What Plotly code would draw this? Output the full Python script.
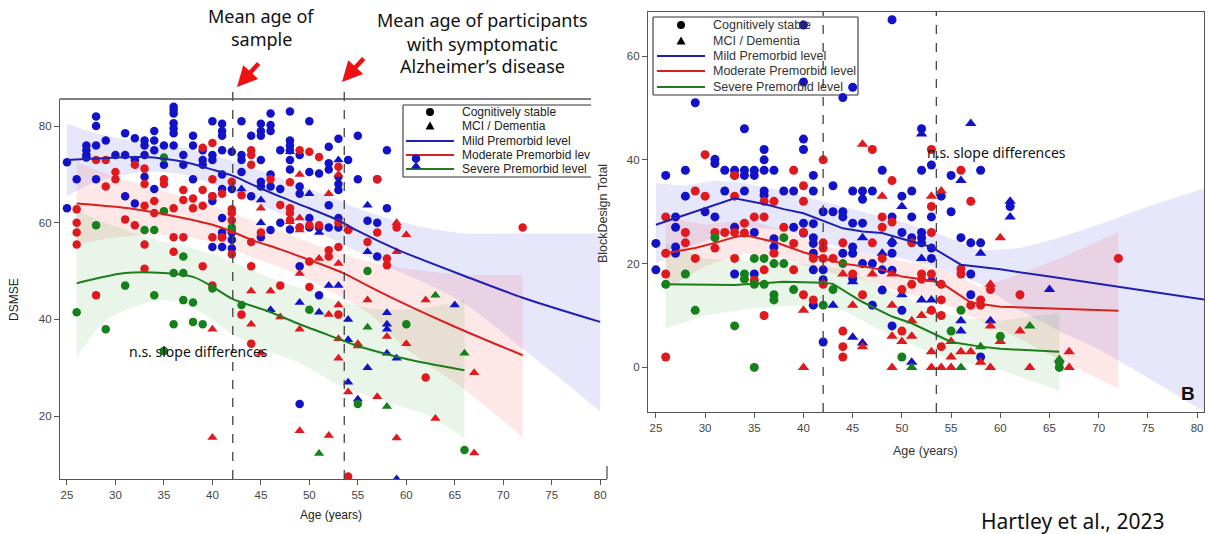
import plotly.graph_objects as go

W, H = 1209, 534

# ---------------- Panel A: DSMSE by age ----------------
# points: age -> list of scores
dsmse_mild_stable = {
    25: [72.5, 63], 26: [69], 27: [76, 75, 74, 73.5], 28: [82, 80, 76, 69], 29: [77],
    30: [74], 31: [78.5, 74, 65.5], 32: [77.5, 73, 64], 33: [77, 76, 74, 69.5],
    34: [79, 77, 75, 67], 35: [76, 72], 36: [84, 83.3, 82.6, 80.6, 79.5, 78.5, 76],
    37: [74, 72], 38: [78, 76, 69], 39: [75, 73, 72], 40: [81, 74, 73, 65.5, 64.5, 55],
    41: [80.5, 79, 78, 75, 70, 67, 61, 58, 57, 55], 42: [74.7, 67, 58, 56.5, 54.7],
    43: [81, 74, 73, 70.5], 44: [78, 65.5], 45: [80.5, 79, 78, 73, 68.5, 67.5, 57],
    46: [82.6, 80.2, 79, 70, 67.5, 58.5], 47: [75, 67, 60], 48: [83, 77, 76, 75, 73, 71, 58.6],
    49: [74, 67.5, 66, 59, 51, 22.5], 50: [81, 70.5, 61, 59], 51: [70.2, 59, 45],
    52: [75.7, 72.3, 71, 63.6, 59], 53: [77.4, 69.5, 68, 66.8, 61, 59], 54: [73],
    55: [78, 69], 56: [60.4], 57: [69, 60, 53], 58: [75, 63], 61: [73.3],
}
dsmse_mild_mci = {
    43: [67], 45: [64.7, 60], 46: [42], 48: [74.7], 49: [43.5], 50: [66], 51: [58, 41.5],
    52: [47], 53: [73, 47], 54: [40, 35.8, 27], 55: [23.5], 56: [63.6, 54, 30],
    58: [41.4, 39, 38, 33], 59: [32, 7], 61: [71.7], 65: [43],
}
dsmse_mod_stable = {
    26: [62.8, 60, 58, 55.5], 28: [73, 45], 29: [73, 67.5], 30: [70.5, 69], 31: [60.7],
    32: [72, 59.5], 33: [71.2, 68, 63.5, 55.5, 50.5], 34: [64.5, 62], 35: [69, 68],
    36: [63, 57, 54], 37: [66.8, 64.7, 57], 38: [65, 63], 39: [75.5, 66.8, 63.5, 51],
    40: [76.5, 69, 65.5, 57, 47], 41: [66, 57], 42: [68.5, 62.8, 62, 60.5, 58.5, 53.5],
    43: [65.7, 41], 44: [75, 74, 72, 56, 51, 35], 45: [58], 46: [69], 47: [63.7, 47],
    48: [68.4, 63, 62, 60.5], 49: [75, 59], 50: [74.7, 59.5, 52, 46.7], 51: [73.6, 59.5],
    52: [54.3, 53], 53: [71.6, 60, 55, 41], 54: [58.5, 7.5], 56: [56], 57: [69, 58],
    58: [52.6, 51.2], 59: [59], 62: [28], 72: [59],
}
dsmse_mod_mci = {
    40: [38, 15.6], 44: [45.9, 39], 45: [63, 33], 46: [45.9], 47: [40.5], 48: [60.2],
    49: [70, 61, 58.5, 49.5, 38, 17], 51: [52.6], 52: [66, 41, 16], 53: [70, 51.6, 43, 36, 32],
    54: [58.8, 25], 55: [35, 34.5], 56: [44], 57: [24], 58: [36.5], 59: [60, 54, 15.5],
    60: [57.5, 35], 62: [44], 63: [19.5], 67: [29, 12.4],
}
dsmse_sev_stable = {
    26: [41.5], 28: [59.5], 29: [38], 31: [47], 33: [58.5], 34: [58.5, 45],
    35: [73.5, 62.4, 33.5], 36: [49.6, 39], 37: [49.6, 53, 44], 38: [43.5, 39.5], 39: [39],
    40: [46.4], 42: [59], 43: [43], 50: [42], 55: [22.5], 56: [50], 60: [39], 66: [13],
}
dsmse_sev_mci = {51: [12.3], 56: [38.4], 58: [22], 63: [45], 66: [33]}

# fitted trajectories and confidence bands
dsmse_mild_fit_age = [25, 28, 33, 37, 40, 42, 44, 47, 50, 53, 55, 59, 66, 72, 80]
dsmse_mild_fit = [73, 73.3, 73.6, 72.6, 71, 69.8, 68, 65.4, 63, 60.5, 58.3, 54.5, 49, 44.5, 39.5]
dsmse_mild_ci_age = [25, 28, 33, 37, 40, 44, 48, 52, 55, 58, 62, 66, 72, 80]
dsmse_mild_ci_hi = [80.5, 78.5, 76.5, 75.5, 74, 71.5, 68.5, 65.5, 63, 61, 59, 57.8, 57.8, 57.8]
dsmse_mild_ci_lo = [65.5, 68.5, 70.5, 70, 68, 64.5, 61, 57, 54, 51, 47.5, 43.3, 34, 21]

dsmse_mod_fit_age = [26, 30, 33, 37, 40, 42, 44, 47, 50, 53.5, 56, 59, 65, 72]
dsmse_mod_fit = [64, 63.3, 62.5, 61, 59.6, 58.2, 56.5, 54.5, 52.3, 49.6, 47, 44, 38.5, 32.6]
dsmse_mod_ci_age = [26, 30, 35, 40, 44, 48, 52, 56, 60, 66, 72]
dsmse_mod_ci_hi = [72.5, 69.5, 66.5, 63.5, 60.5, 57.5, 54.5, 52, 50.5, 49.3, 49.2]
dsmse_mod_ci_lo = [55.5, 57, 57.5, 56, 53, 50, 46, 41.5, 34, 25.5, 15.7]

dsmse_sev_fit_age = [26, 31, 35, 38, 40, 42, 46, 49, 53, 55, 59, 62, 66]
dsmse_sev_fit = [47.5, 49.6, 49.6, 48.8, 46.8, 44.3, 41.5, 39, 36, 34.5, 32.3, 31, 29.5]
dsmse_sev_ci_age = [26, 29, 32.5, 35, 37.5, 40, 42, 45.5, 49, 53.5, 57.5, 62.5, 66]
dsmse_sev_ci_hi = [62.5, 60, 57.5, 56, 55, 53.5, 52, 49, 46.5, 43.5, 42, 42.5, 44]
dsmse_sev_ci_lo = [32.2, 39.8, 43, 44, 43, 40, 37, 33.6, 31, 26, 23.3, 19.9, 15.4]

# ---------------- Panel B: Block Design total by age ----------------
bd_mild_stable = {
    25: [23.9, 18.8], 26: [37], 27: [29, 27, 23.2, 22], 28: [38, 33], 29: [51], 30: [30],
    31: [40.1, 39.3, 29], 32: [38, 34], 33: [38, 37, 27, 18], 34: [46, 38, 37, 34],
    35: [38, 37, 26, 18], 36: [42, 40, 38, 34, 33.2], 37: [38, 24.8, 23.2], 38: [34],
    39: [34, 27], 40: [66, 55, 44, 42, 27.8, 25.9], 41: [37, 34, 27.7, 25, 23.9, 22, 18.8, 12],
    42: [30, 18.8, 16.9, 4.9], 43: [35, 30], 44: [52, 30, 29, 22], 45: [54, 34, 27.8, 23.2, 22, 17.1],
    46: [34, 32.4, 27.8, 20], 47: [34, 20, 12], 48: [38, 18.8, 14.9], 49: [67, 29, 24, 22, 18.7, 8],
    50: [33, 26, 11], 51: [34, 29, 25], 52: [46, 38, 26, 25, 24], 53: [39, 29, 23, 21],
    54: [33], 55: [37, 30], 56: [25], 57: [24, 18, 14], 58: [38, 24, 2], 61: [31],
}
bd_mild_mci = {
    43: [12], 45: [16.5, 5.8], 46: [25, 4.7], 48: [22], 49: [24.3], 50: [31, 14], 51: [1],
    52: [45, 21, 13], 53: [17, 13], 56: [36, 9, 7], 57: [47], 58: [22], 59: [9], 61: [32, 29],
    65: [15],
}
bd_mod_stable = {
    26: [29, 22, 18, 2], 28: [26, 24], 29: [34, 21], 30: [41, 33], 31: [26, 23], 32: [26],
    33: [37, 33, 26, 21], 34: [27.8, 25.9], 35: [29, 16.8], 36: [32, 29, 18.8, 10], 37: [32, 22],
    38: [27], 39: [38, 23.9, 18.8], 40: [35, 32, 26, 14], 41: [21, 13], 42: [40, 24, 23, 21, 16],
    43: [21], 44: [24, 7, 4, 2], 45: [18], 46: [14], 47: [42, 24], 48: [29, 27, 21], 49: [36, 28],
    50: [15, 7], 51: [24, 16], 52: [18, 17], 53: [42, 31, 26, 18, 11], 54: [16, 13, 10, 4],
    56: [38, 19, 18], 57: [32, 12], 58: [13, 12], 59: [15], 62: [14], 72: [21],
}
bd_mod_mci = {
    40: [11, 0], 44: [18], 45: [12], 46: [43, 4], 47: [18], 48: [33], 49: [18, 12, 6, 0], 50: [5],
    51: [9, 6], 52: [10], 53: [33, 11, 3, 0], 54: [34, 0], 55: [5, 2, 0], 56: [3], 57: [3], 58: [1],
    59: [16, 8, 0], 60: [25, 5], 62: [7], 63: [0], 67: [3, 0],
}
bd_sev_stable = {
    26: [16], 28: [18], 29: [11], 31: [25], 33: [8], 34: [18, 17], 35: [21, 16, 0], 36: [21, 16],
    37: [20, 14, 13], 38: [25, 20], 39: [15], 42: [12], 43: [15], 44: [20], 50: [2], 55: [7],
    56: [11], 60: [6], 66: [1, 0],
}
bd_sev_mci = {51: [0], 56: [0], 58: [4], 63: [8], 66: [1.5]}

bd_mild_fit_age = [25, 27, 30, 33, 36, 38, 40, 42, 44, 46, 48, 50, 53, 56, 60, 65, 70, 75, 80.7]
bd_mild_fit = [27.5, 28.8, 30.8, 32.6, 31.5, 30.5, 29.7, 28.3, 26.8, 26.2, 25.9, 24.8, 23.2, 19.8, 18.9, 17.5, 16.1, 14.7, 13.1]
bd_mild_ci_age = [25, 28, 31, 34, 38, 42, 46, 50, 54, 58, 62, 66, 70, 75, 80.7]
bd_mild_ci_hi = [35.5, 35, 36, 35.5, 34, 32, 30, 28, 25.5, 22.5, 23, 25, 27.5, 31, 34.5]
bd_mild_ci_lo = [20, 23, 25, 27, 26.5, 24, 22, 21, 19, 16, 11, 7, 3.5, -2, -8.5]

bd_mod_fit_age = [26, 29, 31, 33, 34, 37, 40, 42, 44, 46, 48, 50, 52, 54, 57, 60, 66, 72]
bd_mod_fit = [22, 23, 24, 25.1, 25.5, 24.2, 22.2, 21, 20, 19.5, 18.8, 17.5, 17, 16.3, 12.5, 11.7, 11.3, 10.9]
bd_mod_ci_age = [26, 30, 34, 38, 42, 46, 50, 54, 58, 62, 66, 72]
bd_mod_ci_hi = [29, 27.5, 28.5, 26.5, 23.5, 22, 20.5, 19, 15.5, 18, 21, 26]
bd_mod_ci_lo = [15, 19.5, 22, 21, 18.5, 17, 14.5, 12.5, 9, 5.5, 1.5, -4]

bd_sev_fit_age = [26, 33, 38, 42, 43, 46, 49, 51, 55, 58, 60, 66]
bd_sev_fit = [16, 15.9, 16.5, 16.3, 16.1, 12.6, 9.8, 8.5, 4.9, 4, 3.6, 3]
bd_sev_ci_age = [26, 30, 35, 40, 44, 48, 52, 56, 60, 66]
bd_sev_ci_hi = [24, 21, 20.5, 20, 19, 15.5, 12, 9.5, 9, 10.5]
bd_sev_ci_lo = [7.5, 10, 11.5, 12, 11, 7, 3.5, 1, -0.5, -4.5]

mean_age_sample = [42.1, 42.0]
mean_age_ad = [53.6, 53.5]
age_ticks = list(range(25, 81, 5))

# ---------------- styling ----------------
BLUE, RED, GREEN = "#1212c8", "#e0191e", "#16801a"
LINE = {"mild": "#2020b0", "mod": "#d82020", "sev": "#1d7d1d"}
BAND = {"mild": "rgba(70,70,235,0.13)", "mod": "rgba(240,70,70,0.13)", "sev": "rgba(50,160,50,0.11)"}
PT = {"mild": BLUE, "mod": RED, "sev": GREEN}


def px(x):
    return x / W


def py(y):
    return 1 - y / H


def flat(d):
    xs, ys = [], []
    for a, vals in d.items():
        for v in vals:
            xs.append(a)
            ys.append(v)
    return xs, ys


fig = go.Figure()

panels = [
    ("x", "y", "spline",
     {"mild": (dsmse_mild_ci_age, dsmse_mild_ci_hi, dsmse_mild_ci_lo),
      "mod": (dsmse_mod_ci_age, dsmse_mod_ci_hi, dsmse_mod_ci_lo),
      "sev": (dsmse_sev_ci_age, dsmse_sev_ci_hi, dsmse_sev_ci_lo)},
     {"mild": (dsmse_mild_stable, dsmse_mild_mci), "mod": (dsmse_mod_stable, dsmse_mod_mci),
      "sev": (dsmse_sev_stable, dsmse_sev_mci)},
     {"mild": (dsmse_mild_fit_age, dsmse_mild_fit), "mod": (dsmse_mod_fit_age, dsmse_mod_fit),
      "sev": (dsmse_sev_fit_age, dsmse_sev_fit)}, 8.5, 9),
    ("x2", "y2", "linear",
     {"mild": (bd_mild_ci_age, bd_mild_ci_hi, bd_mild_ci_lo),
      "mod": (bd_mod_ci_age, bd_mod_ci_hi, bd_mod_ci_lo),
      "sev": (bd_sev_ci_age, bd_sev_ci_hi, bd_sev_ci_lo)},
     {"mild": (bd_mild_stable, bd_mild_mci), "mod": (bd_mod_stable, bd_mod_mci),
      "sev": (bd_sev_stable, bd_sev_mci)},
     {"mild": (bd_mild_fit_age, bd_mild_fit), "mod": (bd_mod_fit_age, bd_mod_fit),
      "sev": (bd_sev_fit_age, bd_sev_fit)}, 9, 10),
]

for xa, ya, shape, bands, pts, fits, csize, tsize in panels:
    for g in ["mild", "mod", "sev"]:
        a, hi, lo = bands[g]
        fig.add_trace(go.Scatter(x=a, y=lo, xaxis=xa, yaxis=ya, mode="lines",
                                 line=dict(width=0, shape=shape, smoothing=0.8),
                                 hoverinfo="skip", showlegend=False))
        fig.add_trace(go.Scatter(x=a, y=hi, xaxis=xa, yaxis=ya, mode="lines",
                                 fill="tonexty", fillcolor=BAND[g],
                                 line=dict(width=0, shape=shape, smoothing=0.8),
                                 hoverinfo="skip", showlegend=False))
    for g in ["mild", "mod", "sev"]:
        stable, mci = pts[g]
        sx, sy = flat(stable)
        mx, my = flat(mci)
        fig.add_trace(go.Scatter(x=sx, y=sy, xaxis=xa, yaxis=ya, mode="markers",
                                 marker=dict(symbol="circle", size=csize, color=PT[g]),
                                 showlegend=False))
        fig.add_trace(go.Scatter(x=mx, y=my, xaxis=xa, yaxis=ya, mode="markers",
                                 marker=dict(symbol="triangle-up", size=tsize, color=PT[g]),
                                 showlegend=False))
    for g in ["mild", "mod", "sev"]:
        a, v = fits[g]
        fig.add_trace(go.Scatter(x=a, y=v, xaxis=xa, yaxis=ya, mode="lines",
                                 line=dict(color=LINE[g], width=2, shape=shape, smoothing=0.8),
                                 showlegend=False))

axis_common = dict(ticks="outside", ticklen=5, tickcolor="#555", showgrid=False, zeroline=False,
                   showline=True, linecolor="#555", linewidth=1.3,
                   tickfont=dict(family="Liberation Sans", size=11.5, color="#444"))

fig.update_layout(
    width=W, height=H, margin=dict(l=0, r=0, t=0, b=0), autosize=False,
    paper_bgcolor="white", plot_bgcolor="rgba(0,0,0,0)", showlegend=False,
    xaxis=dict(domain=[px(60), px(607)], range=[24.28, 80.7], tickvals=age_ticks, anchor="y",
               **axis_common),
    yaxis=dict(domain=[py(479), py(99)], range=[7, 85.6], tickvals=[20, 40, 60, 80], anchor="x",
               **axis_common),
    xaxis2=dict(domain=[px(648), px(1204)], range=[24.2, 80.7], tickvals=age_ticks, anchor="y2",
                mirror=True, **axis_common),
    yaxis2=dict(domain=[py(412), py(12)], range=[-8.6, 68.5], tickvals=[0, 20, 40, 60], anchor="x2",
                mirror=True, **axis_common),
)

shapes = []
# mean-age reference lines
for xa, ya, xv, top in [("x", "y", mean_age_sample[0], 1.032), ("x", "y", mean_age_ad[0], 1.032),
                        ("x2", "y2", mean_age_sample[1], 1.0), ("x2", "y2", mean_age_ad[1], 1.0)]:
    shapes.append(dict(type="line", xref=xa, yref=ya + " domain", x0=xv, x1=xv, y0=0, y1=top,
                       line=dict(color="#444", width=1.3, dash="dash"), layer="above"))
# panel A frame pieces
shapes.append(dict(type="line", xref="paper", yref="paper", x0=px(60), x1=px(591), y0=py(99), y1=py(99),
                   line=dict(color="#555", width=1.3)))
shapes.append(dict(type="line", xref="paper", yref="paper", x0=px(607), x1=px(607), y0=py(466), y1=py(479),
                   line=dict(color="#555", width=1.3)))


# legends (keys drawn under the data)
def legend_block(x0, y0, x1, y1, sym_x, line_x0, line_x1, rows, closed):
    out = [dict(type="rect", xref="paper", yref="paper", x0=px(x0), x1=px(x1), y0=py(y1), y1=py(y0),
                fillcolor="white", line=dict(width=0), layer="below")]
    edges = [((x0, y0), (x1, y0)), ((x0, y0), (x0, y1)), ((x0, y1), (x1, y1))]
    if closed:
        edges.append(((x1, y0), (x1, y1)))
    for (ax_, ay_), (bx, by) in edges:
        out.append(dict(type="line", xref="paper", yref="paper", x0=px(ax_), y0=py(ay_), x1=px(bx), y1=py(by),
                        line=dict(color="#333", width=1.1), layer="below"))
    out.append(dict(type="circle", xref="paper", yref="paper", xsizemode="pixel", ysizemode="pixel",
                    xanchor=px(sym_x), yanchor=py(rows[0]), x0=-4, x1=4, y0=-4, y1=4,
                    fillcolor="black", line=dict(width=0), layer="below"))
    out.append(dict(type="path", xref="paper", yref="paper", xsizemode="pixel", ysizemode="pixel",
                    xanchor=px(sym_x), yanchor=py(rows[1]), path="M-4.5,-3.5 L4.5,-3.5 L0,4.5 Z",
                    fillcolor="black", line=dict(width=0), layer="below"))
    for r, g in zip(rows[2:], ["mild", "mod", "sev"]):
        out.append(dict(type="line", xref="paper", yref="paper", x0=px(line_x0), x1=px(line_x1),
                        y0=py(r), y1=py(r), line=dict(color=LINE[g], width=2), layer="below"))
    return out


rowsA = [112, 126, 141, 155, 169]
rowsB = [25, 41, 56, 71, 87]
shapes += legend_block(403, 105, 591, 177, 430, 406, 454, rowsA, False)
shapes += legend_block(653, 17, 858, 95, 681, 657, 705, rowsB, True)
fig.update_layout(shapes=shapes)

ann = []
leg_texts_A = ["Cognitively stable", "MCI / Dementia", "Mild Premorbid level", "Moderate Premorbid lev",
               "Severe Premorbid level"]
leg_texts_B = ["Cognitively stable", "MCI / Dementia", "Mild Premorbid level", "Moderate Premorbid level",
               "Severe Premorbid level"]
for r, t in zip(rowsA, leg_texts_A):
    ann.append(dict(x=px(460), y=py(r), text=t, xanchor="left", yanchor="middle",
                    font=dict(family="Liberation Sans", size=12, color="#222")))
for r, t in zip(rowsB, leg_texts_B):
    ann.append(dict(x=px(711), y=py(r), text=t, xanchor="left", yanchor="middle",
                    font=dict(family="Liberation Sans", size=12.5, color="#333")))

# axis titles
ann.append(dict(x=px(14), y=py(300), text="DSMSE", textangle=-90,
                font=dict(family="Liberation Sans", size=12, color="#222")))
ann.append(dict(x=px(331), y=py(515), text="Age (years)", font=dict(family="Liberation Sans", size=12, color="#222")))
ann.append(dict(x=px(925), y=py(451), text="Age (years)", font=dict(family="Liberation Sans", size=12.5, color="#333")))
ann.append(dict(x=px(603), y=py(214), text="BlockDesign Total", textangle=-90,
                font=dict(family="Liberation Sans", size=12.5, color="#333")))

# callouts
callout_font = dict(family="Noto Sans", size=18, color="#111")
for t, x, y in [("Mean age of", 261, 16), ("sample", 261, 39),
                ("Mean age of participants", 482, 20), ("with symptomatic", 482, 44),
                ("Alzheimer\u2019s disease", 482, 66)]:
    ann.append(dict(x=px(x), y=py(y), text=t, font=callout_font))
for hx, hy in [(237, 87), (342, 82)]:
    ann.append(dict(x=px(hx), y=py(hy), ax=23, ay=-25, text="", showarrow=True, arrowhead=2,
                    arrowsize=0.9, arrowwidth=4.5, arrowcolor="#ee1111", standoff=0))
ann.append(dict(x=px(198), y=py(351), text="n.s. slope differences",
                font=dict(family="Noto Sans", size=14, color="#111")))
ann.append(dict(x=px(996), y=py(152), text="n.s. slope differences",
                font=dict(family="Noto Sans", size=14, color="#111")))
ann.append(dict(x=px(1188), y=py(393), text="<b>B</b>", font=dict(family="Liberation Sans", size=19, color="#111")))
ann.append(dict(x=px(1072), y=py(521), text="Hartley et al., 2023",
                font=dict(family="Noto Sans", size=21, color="#111")))

for a in ann:
    a.setdefault("xref", "paper")
    a.setdefault("yref", "paper")
    a.setdefault("showarrow", False)
    a.setdefault("xanchor", "center")
    a.setdefault("yanchor", "middle")
    if a.get("showarrow"):
        a["axref"] = "pixel"
        a["ayref"] = "pixel"
fig.update_layout(annotations=ann)

fig.write_html("out.html")
